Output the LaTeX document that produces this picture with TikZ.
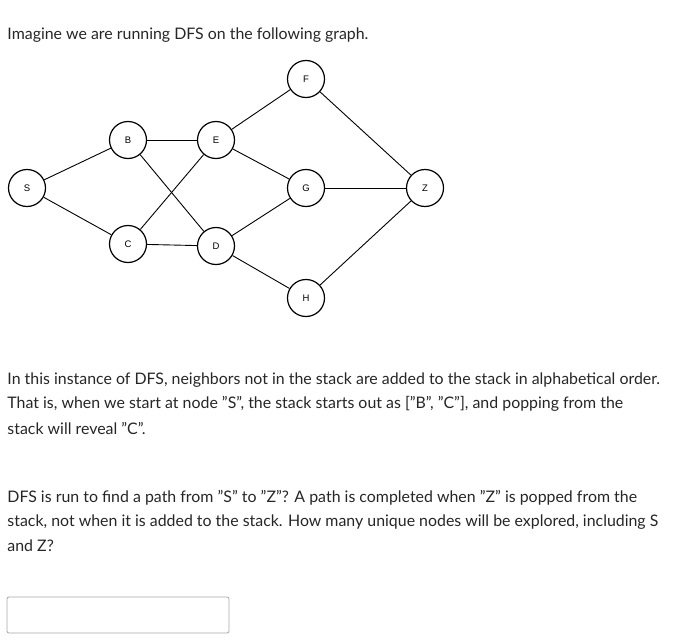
\documentclass[tikz,border=0pt]{standalone}
\usepackage{fontspec}
\setmainfont{Lato}
\newfontfamily\nodefont{Liberation Sans}
\newcommand{\qq}{\symbol{34}}
\begin{document}
\begin{tikzpicture}[x=1pt,y=-1pt,line width=0.9pt,
  vtx/.style={circle,draw,line width=1.2pt,minimum size=37pt,inner sep=0pt,fill=white,font=\nodefont\fontsize{9.5}{10}\selectfont},
  txt/.style={anchor=west,inner sep=0pt,font=\fontsize{15.9}{24}\selectfont,text=black!85}]
\useasboundingbox (0,0) rectangle (677,642);
\node[txt] (t0) at (7,35) {Imagine we are running DFS on the following graph.};
\node[vtx] (S) at (27,188) {S};
\node[vtx] (B) at (128,140) {B};
\node[vtx] (E) at (216,140) {E};
\node[vtx] (C) at (128,244) {C};
\node[vtx] (D) at (216,246) {D};
\node[vtx] (F) at (306,79) {F};
\node[vtx] (G) at (306,188) {G};
\node[vtx] (Z) at (425,188) {Z};
\node[vtx] (H) at (306,298) {H};
\foreach \a/\b in {S/B,S/C,B/E,B/D,C/E,C/D,E/F,E/G,D/G,D/H,F/Z,G/Z,H/Z}
  \draw (\a) -- (\b);
\node[txt] (p1) at (7,380) {In this instance of DFS, neighbors not in the stack are added to the stack in alphabetical order.};
\node[txt] (p2) at (7,404) {That is, when we start at node \qq S\qq, the stack starts out as [\qq B\qq, \qq C\qq], and popping from the};
\node[txt] (p3) at (7,428) {stack will reveal \qq C\qq.};
\node[txt] (q1) at (7,498) {DFS is run to find a path from \qq S\qq\ to \qq Z\qq? A path is completed when \qq Z\qq\ is popped from the};
\node[txt] (q2) at (7,522) {stack, not when it is added to the stack. How many unique nodes will be explored, including S};
\node[txt] (q3) at (7,546) {and Z?};
\draw[black!35,line width=0.8pt,rounded corners=2pt] (7,597) rectangle (229,633);
\end{tikzpicture}
\end{document}
